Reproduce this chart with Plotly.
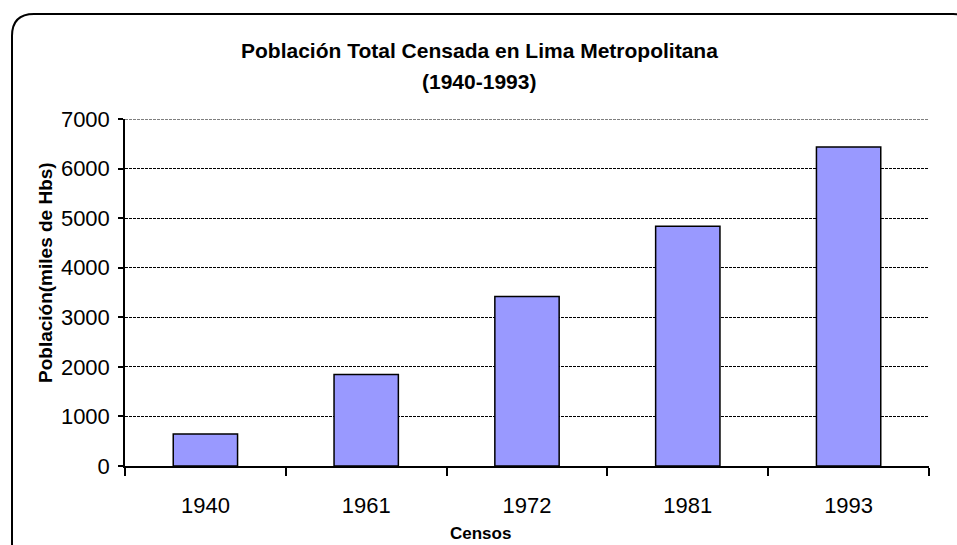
import plotly.graph_objects as go

years = ["1940", "1961", "1972", "1981", "1993"]
population = [645.2, 1845.9, 3418.5, 4835.8, 6434.3]
y_ticks = [0, 1000, 2000, 3000, 4000, 5000, 6000, 7000]
y_max = 7000

W, H = 957, 545
L, R, T, B = 125, 28, 119, 79
PW, PH = W - L - R, H - T - B


def px(x):
    return (x - L) / PW


def py(y):
    return (H - B - y) / PH


fig = go.Figure(
    go.Bar(
        x=years,
        y=population,
        width=0.4,
        marker=dict(color="#9999FF", line=dict(color="black", width=1.5)),
    )
)

# rounded border
x0, y0, x1, y1, r = 12, 14, 975, 565, 22
path = (
    f"M {px(x0)},{py(y0 + r)} "
    f"Q {px(x0)},{py(y0)} {px(x0 + r)},{py(y0)} "
    f"L {px(x1 - r)},{py(y0)} "
    f"Q {px(x1)},{py(y0)} {px(x1)},{py(y0 + r)} "
    f"L {px(x1)},{py(y1 - r)} "
    f"Q {px(x1)},{py(y1)} {px(x1 - r)},{py(y1)} "
    f"L {px(x0 + r)},{py(y1)} "
    f"Q {px(x0)},{py(y1)} {px(x0)},{py(y1 - r)} Z"
)

grid_dash = "3px,1px"

fig.update_layout(
    width=W,
    height=H,
    margin=dict(l=L, r=R, t=T, b=B),
    paper_bgcolor="white",
    plot_bgcolor="white",
    showlegend=False,
    font=dict(family="Liberation Sans, Arial", color="black"),
    shapes=[
        dict(type="path", path=path, xref="paper", yref="paper",
             line=dict(color="black", width=2), layer="below"),
        dict(type="line", xref="paper", yref="y", x0=0, x1=1, y0=y_max, y1=y_max,
             line=dict(color="black", width=1, dash=grid_dash), layer="below"),
    ],
    annotations=[
        dict(text="<b>Población Total Censada en Lima Metropolitana</b>",
             x=px(479), y=py(51), xref="paper", yref="paper",
             showarrow=False, font=dict(size=21), xanchor="center", yanchor="middle"),
        dict(text="<b>(1940-1993)</b>",
             x=px(479), y=py(81), xref="paper", yref="paper",
             showarrow=False, font=dict(size=21), xanchor="center", yanchor="middle"),
        dict(text="<b>Población(miles de Hbs)</b>",
             x=px(45), y=py(273), xref="paper", yref="paper", textangle=-90,
             showarrow=False, font=dict(size=19), xanchor="center", yanchor="middle"),
        dict(text="<b>Censos</b>",
             x=px(480), y=py(533), xref="paper", yref="paper",
             showarrow=False, font=dict(size=17), xanchor="center", yanchor="middle"),
    ],
    bargap=0.6,
)

fig.update_xaxes(
    type="category",
    showline=True, linecolor="black", linewidth=1.5,
    ticks="outside", tickson="boundaries", ticklen=8, tickwidth=1.5, tickcolor="black",
    tickfont=dict(size=22), ticklabelstandoff=19,
    showgrid=False, zeroline=False,
)
fig.update_yaxes(
    range=[0, y_max], tickvals=y_ticks,
    showline=True, linecolor="black", linewidth=1.5,
    ticks="outside", ticklen=5, tickwidth=1.5, tickcolor="black",
    tickfont=dict(size=22), ticklabelstandoff=4,
    showgrid=True, gridcolor="black", gridwidth=1, griddash=grid_dash,
    zeroline=False,
)

fig.write_html("out.html", config={"displayModeBar": False},
               post_script="document.body.style.margin='0';")
